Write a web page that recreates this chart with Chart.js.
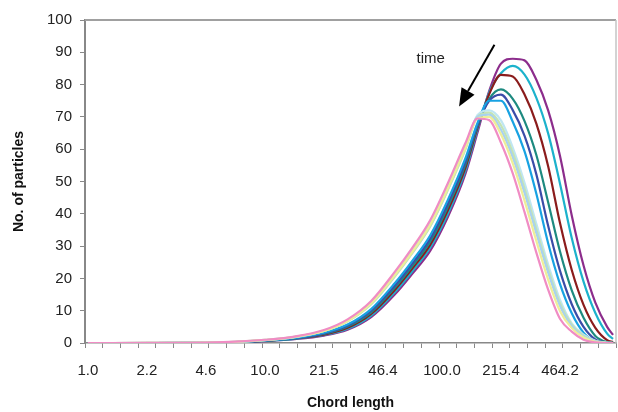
<!DOCTYPE html>
<html>
<head>
<meta charset="utf-8">
<script src="https://cdn.jsdelivr.net/npm/chart.js@4.4.1/dist/chart.umd.min.js"></script>
<style>
  html, body { margin: 0; padding: 0; background: #fff; }
  #wrap { width: 618px; height: 412px; }
</style>
</head>
<body>
<div id="wrap"><canvas id="chart" width="618" height="412"></canvas></div>
<script>
// chord length channel (0..89) and the labels shown on the x axis
const channels = [0, 10, 20, 25, 30, 35, 40, 44, 48, 52, 55, 58, 61, 64, 66, 68, 70, 72, 74, 76, 78, 80, 82, 84, 86, 88, 89];
const labelChannels = [0, 10, 20, 30, 40, 50, 60, 70, 80];
const chordLabels = ['1.0', '2.2', '4.6', '10.0', '21.5', '46.4', '100.0', '215.4', '464.2'];
const yTicks = [0, 10, 20, 30, 40, 50, 60, 70, 80, 90, 100];

// No. of particles per series (earliest -> latest in time)
const purple     = [0, 0, 0.05, 0.2, 0.6, 1.2, 2.3, 4.1, 8, 15, 21.5, 28.5, 39, 52.5, 65, 78, 86.5, 88, 87.5, 81.5, 72, 58, 39.5, 24, 12.5, 5, 2.5];
const cyan       = [0, 0, 0.05, 0.2, 0.65, 1.3, 2.5, 4.4, 8.5, 15.7, 22.3, 29.5, 40, 53.5, 66, 77.5, 83.5, 85.8, 83.1, 75.9, 64.9, 49.4, 32.5, 19, 9.3, 2.9, 1.3];
const darkRed    = [0, 0, 0.05, 0.25, 0.7, 1.4, 2.6, 4.7, 9, 16.4, 23.1, 30.4, 41.1, 54.4, 66.5, 77, 83, 82.5, 76.9, 67.9, 54.7, 37.2, 22.6, 11.8, 4.7, 0.9, 0.3];
const teal       = [0, 0, 0.05, 0.25, 0.7, 1.4, 2.8, 5.1, 9.5, 17.1, 23.9, 31.4, 42.2, 55.4, 67, 75.5, 78.5, 75.6, 68.7, 58.2, 43.6, 28.4, 16.3, 7.8, 2.2, 0.3, 0.1];
const darkBlue   = [0, 0, 0.05, 0.25, 0.75, 1.5, 3, 5.4, 10, 17.8, 24.7, 32.3, 43.2, 56.3, 67.5, 75, 76.9, 72.1, 64.1, 52.2, 36.3, 22.4, 12, 5, 1.1, 0.1, 0];
const lightBlue  = [0, 0, 0.08, 0.3, 0.8, 1.6, 3.2, 5.7, 10.5, 18.5, 25.5, 33.3, 44.3, 57.3, 68, 75, 75, 68.5, 59.3, 46.2, 30.9, 18.3, 9.2, 3.2, 0.5, 0, 0];
const lightCyan  = [0, 0.02, 0.1, 0.35, 0.9, 1.8, 3.7, 6.7, 12, 20.6, 27.9, 36.1, 47.4, 60.1, 70.5, 72, 68.9, 60.5, 49.6, 36.9, 24.3, 13.4, 6.1, 2.6, 0.7, 0.1, 0];
const lightGreen = [0, 0.02, 0.1, 0.35, 0.9, 1.8, 3.7, 6.7, 12, 20.6, 27.9, 36.1, 47.4, 60.1, 70, 71.3, 67.4, 58.9, 47.8, 35.2, 22.9, 12.3, 5.7, 2.3, 0.6, 0.05, 0];
const paleBlue   = [0, 0.02, 0.12, 0.38, 0.95, 1.9, 3.8, 7, 12.5, 21.3, 28.7, 37, 48.5, 61, 70, 70.7, 66, 57.5, 46.5, 34, 21.8, 11.5, 5.2, 2, 0.5, 0, 0];
const yellow     = [0, 0.02, 0.12, 0.38, 0.95, 1.9, 3.7, 6.8, 12.3, 21, 28.3, 36.6, 47.9, 60.6, 69.5, 70, 64.6, 55.6, 44.1, 31.6, 19.6, 9.9, 4.6, 1.7, 0.4, 0, 0];
const pink       = [0, 0.03, 0.15, 0.4, 1, 2, 4, 7.3, 13, 22, 29.5, 38, 49.5, 62, 69.5, 69, 62, 52.5, 40.5, 28, 16.5, 7.5, 3.5, 1, 0.2, 0, 0];

// "time" arrow, in data units (channel, count)
const arrowTail = { x: 68.9, y: 92.3 };
const arrowTip = { x: 62.9, y: 73.2 };
const timeLabel = { x: 58.1, y: 87.9, text: 'time' };

const FONT = '"Liberation Sans", Arial, sans-serif';

// drawn first in list = drawn on top in Chart.js
const series = [
  { data: pink, color: '#f08cc4' },
  { data: yellow, color: '#eeee98' },
  { data: paleBlue, color: '#a8d2f0' },
  { data: lightGreen, color: '#c4e4b4' },
  { data: lightCyan, color: '#bfe6f2' },
  { data: lightBlue, color: '#18a2e2' },
  { data: darkBlue, color: '#3a4ca8' },
  { data: teal, color: '#1d8a80' },
  { data: darkRed, color: '#8b1c1c' },
  { data: cyan, color: '#1cb2cc' },
  { data: purple, color: '#8c2d8c' }
];

const plotFrame = {
  id: 'plotFrame',
  beforeDatasetsDraw(chart) {
    const { ctx, chartArea } = chart;
    ctx.save();
    ctx.strokeStyle = '#a0a0a0';
    ctx.lineWidth = 2;
    ctx.beginPath();
    ctx.moveTo(chartArea.left, chartArea.top);
    ctx.lineTo(chartArea.right, chartArea.top);
    ctx.stroke();
    ctx.strokeStyle = '#c4c4c4';
    ctx.lineWidth = 1.5;
    ctx.beginPath();
    ctx.moveTo(chartArea.right, chartArea.top);
    ctx.lineTo(chartArea.right, chartArea.bottom);
    ctx.stroke();
    ctx.restore();
  }
};

const timeArrow = {
  id: 'timeArrow',
  afterDatasetsDraw(chart) {
    const { ctx, scales } = chart;
    const x0 = scales.x.getPixelForValue(arrowTail.x), y0 = scales.y.getPixelForValue(arrowTail.y);
    const x1 = scales.x.getPixelForValue(arrowTip.x), y1 = scales.y.getPixelForValue(arrowTip.y);
    const ang = Math.atan2(y1 - y0, x1 - x0);
    const headLen = 18, headW = 7.5;
    const bx = x1 - headLen * Math.cos(ang), by = y1 - headLen * Math.sin(ang);
    ctx.save();
    ctx.strokeStyle = '#000';
    ctx.fillStyle = '#000';
    ctx.lineWidth = 2;
    ctx.beginPath();
    ctx.moveTo(x0, y0);
    ctx.lineTo(bx, by);
    ctx.stroke();
    ctx.beginPath();
    ctx.moveTo(x1, y1);
    ctx.lineTo(bx + headW * Math.sin(ang), by - headW * Math.cos(ang));
    ctx.lineTo(bx - headW * Math.sin(ang), by + headW * Math.cos(ang));
    ctx.closePath();
    ctx.fill();
    ctx.font = '15px ' + FONT;
    ctx.fillStyle = '#222';
    ctx.textAlign = 'center';
    ctx.textBaseline = 'middle';
    ctx.fillText(timeLabel.text, scales.x.getPixelForValue(timeLabel.x), scales.y.getPixelForValue(timeLabel.y));
    ctx.restore();
  }
};

new Chart(document.getElementById('chart'), {
  type: 'line',
  data: {
    datasets: series.map(s => ({
      data: channels.map((c, i) => ({ x: c, y: s.data[i] })),
      borderColor: s.color,
      borderWidth: 2.2,
      pointRadius: 0,
      fill: false,
      cubicInterpolationMode: 'monotone'
    }))
  },
  options: {
    responsive: false,
    animation: false,
    devicePixelRatio: 1,
    layout: { padding: { top: 20, right: 2, left: 0, bottom: 0 } },
    plugins: { legend: { display: false }, tooltip: { enabled: false } },
    scales: {
      x: {
        type: 'linear',
        min: -0.5,
        max: 89.5,
        afterBuildTicks: axis => {
          const t = [];
          for (let k = 0; k <= 30; k++) t.push({ value: -0.5 + 3 * k });
          labelChannels.forEach(c => t.push({ value: c }));
          t.sort((a, b) => a.value - b.value);
          axis.ticks = t;
        },
        afterFit: axis => {
          axis.height = 69;
          axis.paddingLeft = 0;
          axis.paddingRight = 0;
        },
        grid: {
          drawOnChartArea: false,
          tickLength: 5,
          lineWidth: 1,
          color: ctx => (ctx.tick && labelChannels.includes(ctx.tick.value)) ? 'rgba(0,0,0,0)' : '#888'
        },
        border: { color: '#888', width: 1.5 },
        ticks: {
          autoSkip: false,
          maxRotation: 0,
          minRotation: 0,
          padding: 14,
          color: '#222',
          font: { family: FONT, size: 15 },
          callback: value => {
            const i = labelChannels.indexOf(value);
            return i >= 0 ? chordLabels[i] : '';
          }
        },
        title: {
          display: true,
          text: 'Chord length',
          color: '#111',
          font: { family: FONT, size: 14, weight: 'bold' },
          padding: { top: 15, bottom: 0 }
        }
      },
      y: {
        min: 0,
        max: 100,
        afterBuildTicks: axis => { axis.ticks = yTicks.map(v => ({ value: v })); },
        afterFit: axis => { axis.width = 85; },
        grid: { drawOnChartArea: false, tickLength: 5, color: '#888', lineWidth: 1 },
        border: { color: '#888', width: 2 },
        ticks: {
          padding: 8,
          color: '#222',
          font: { family: FONT, size: 15 }
        },
        title: {
          display: true,
          text: 'No. of particles',
          color: '#111',
          font: { family: FONT, size: 14, weight: 'bold' },
          padding: { top: 11, bottom: 0 }
        }
      }
    }
  },
  plugins: [plotFrame, timeArrow]
});
</script>
</body>
</html>
